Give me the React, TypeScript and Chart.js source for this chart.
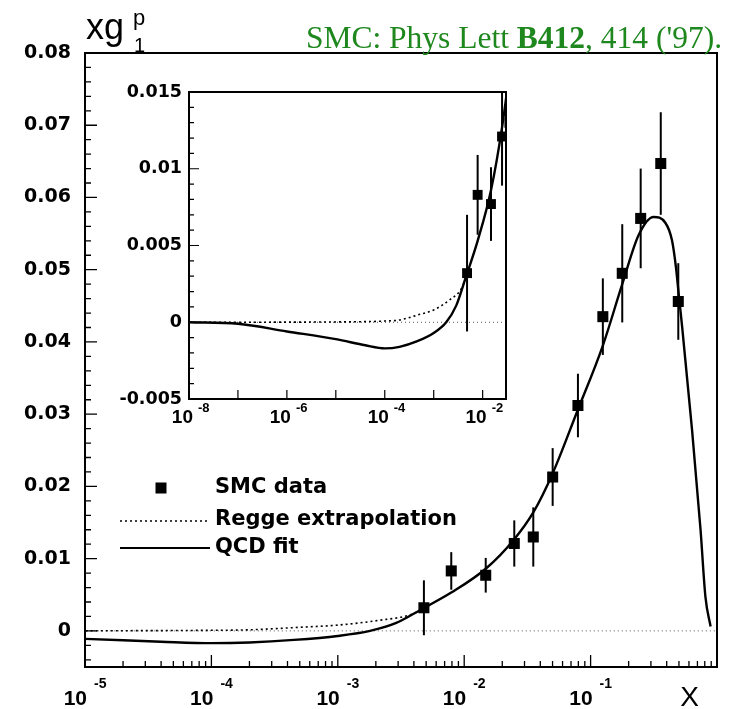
import React, { useEffect, useRef } from "react";
import { Chart, registerables } from "chart.js";

Chart.register(...registerables);

// ---------------- data ----------------
const smcX = [0.0048, 0.0079, 0.0148, 0.0249, 0.0352, 0.0501, 0.0794, 0.125, 0.178, 0.249, 0.359, 0.494];
const smcY = [0.0032, 0.0083, 0.0077, 0.0121, 0.013, 0.0213, 0.0312, 0.0435, 0.0495, 0.0571, 0.0647, 0.0456];
const smcErr = [0.0038, 0.0026, 0.0024, 0.0032, 0.0041, 0.004, 0.0044, 0.0053, 0.0068, 0.0069, 0.0071, 0.0053];

const qcdX = [1e-8, 1e-7, 1e-6, 1e-5, 4e-5, 1e-4, 2e-4, 4.5e-4, 1e-3, 1.8e-3, 2.9e-3, 4.5e-3, 7.9e-3, 0.0148, 0.0249, 0.0352, 0.0501, 0.0776, 0.125, 0.178, 0.24, 0.315, 0.39, 0.44, 0.473, 0.5, 0.53, 0.635, 0.741, 0.81, 0.89];
const qcdY = [0, -0.0001, -0.0006, -0.0011, -0.0015, -0.0017, -0.0016, -0.00125, -0.0007, 0.0, 0.0011, 0.0029, 0.0053, 0.0086, 0.0127, 0.0164, 0.0218, 0.0302, 0.0395, 0.048, 0.0548, 0.0573, 0.0565, 0.0541, 0.0504, 0.0463, 0.0421, 0.0278, 0.014, 0.0047, 0.0006];

const reggeX = [1e-8, 1e-5, 1e-4, 2e-4, 5e-4, 1e-3, 2.1e-3, 3.7e-3, 4.8e-3];
const reggeY = [0, 0.00002, 0.00008, 0.00015, 0.0005, 0.0008, 0.00145, 0.0022, 0.0031];

const zeroX = [1e-8, 1];
const zeroY = [0, 0];

const mainYTicks = [0, 0.01, 0.02, 0.03, 0.04, 0.05, 0.06, 0.07, 0.08];
const mainYTickLabels = ["0", "0.01", "0.02", "0.03", "0.04", "0.05", "0.06", "0.07", "0.08"];
const mainXExps = [-5, -4, -3, -2, -1];
const insetYTicks = [-0.005, 0, 0.005, 0.01, 0.015];
const insetYTickLabels = ["-0.005", "0", "0.005", "0.01", "0.015"];
const insetXExps = [-8, -6, -4, -2];

const legendLabels = ["SMC data", "Regge extrapolation", "QCD fit"];
const titleParts = ["SMC: Phys Lett ", "B412", ", 414 ('97)."];

// ---------------- helpers ----------------
const pts = (xs: number[], ys: number[]) => xs.map((x, i) => ({ x, y: ys[i] }));

function datasets(markerR: number) {
  return [
    {
      label: "SMC data",
      data: pts(smcX, smcY),
      showLine: false,
      pointStyle: "rect",
      pointRadius: markerR,
      pointBackgroundColor: "#000",
      pointBorderWidth: 0,
      order: 0,
    },
    {
      label: "QCD fit",
      data: pts(qcdX, qcdY),
      showLine: true,
      pointRadius: 0,
      borderColor: "#000",
      borderWidth: 2.4,
      cubicInterpolationMode: "monotone",
      order: 1,
    },
    {
      label: "Regge extrapolation",
      data: pts(reggeX, reggeY),
      showLine: true,
      pointRadius: 0,
      borderColor: "#000",
      borderWidth: 1.6,
      borderDash: [2, 3],
      cubicInterpolationMode: "monotone",
      order: 2,
    },
    {
      label: "zero",
      data: pts(zeroX, zeroY),
      showLine: true,
      pointRadius: 0,
      borderColor: "#555",
      borderWidth: 1,
      borderDash: [1, 3],
      order: 3,
    },
  ];
}

function errorBars(chart: any, width: number) {
  const ctx = chart.ctx;
  const a = chart.chartArea;
  const xs = chart.scales.x;
  const ys = chart.scales.y;
  ctx.save();
  ctx.beginPath();
  ctx.rect(a.left, a.top, a.right - a.left, a.bottom - a.top);
  ctx.clip();
  ctx.strokeStyle = "#000";
  ctx.lineWidth = width;
  smcX.forEach((x, i) => {
    const px = xs.getPixelForValue(x);
    ctx.beginPath();
    ctx.moveTo(px, ys.getPixelForValue(smcY[i] - smcErr[i]));
    ctx.lineTo(px, ys.getPixelForValue(smcY[i] + smcErr[i]));
    ctx.stroke();
  });
  ctx.restore();
}

function logTicks(chart: any, lo: number, hi: number, majLen: number, minLen: number, withMinor: boolean) {
  const ctx = chart.ctx;
  const a = chart.chartArea;
  const xs = chart.scales.x;
  ctx.beginPath();
  for (let e = lo; e <= hi; e++) {
    for (let m = 1; m <= 9; m++) {
      if (m > 1 && !withMinor) continue;
      const v = m * Math.pow(10, e);
      const px = xs.getPixelForValue(v);
      if (px < a.left - 0.5 || px > a.right + 0.5) continue;
      const len = m === 1 ? majLen : minLen;
      ctx.moveTo(px, a.bottom);
      ctx.lineTo(px, a.bottom - len);
    }
  }
  ctx.stroke();
}

function linTicks(chart: any, step: number, majEvery: number, majLen: number, minLen: number) {
  const ctx = chart.ctx;
  const a = chart.chartArea;
  const ys = chart.scales.y;
  const min = ys.min;
  const max = ys.max;
  ctx.beginPath();
  const n0 = Math.ceil(min / step - 1e-6);
  const n1 = Math.floor(max / step + 1e-6);
  for (let n = n0; n <= n1; n++) {
    const py = ys.getPixelForValue(n * step);
    const len = n % majEvery === 0 ? majLen : minLen;
    ctx.moveTo(a.left, py);
    ctx.lineTo(a.left + len, py);
  }
  ctx.stroke();
}

function supLabel(ctx: any, px: number, base: string, exp: string, baseFont: string, expFont: string, baseDx: number, baseY: number, expDx: number, expY: number) {
  ctx.font = baseFont;
  ctx.textAlign = "right";
  ctx.textBaseline = "alphabetic";
  ctx.fillText(base, px + baseDx, baseY);
  ctx.font = expFont;
  ctx.textAlign = "left";
  ctx.fillText(exp, px + expDx, expY);
}

const mainDecor = {
  id: "mainDecor",
  beforeDraw(chart: any) {
    const ctx = chart.ctx;
    ctx.save();
    ctx.fillStyle = "#fff";
    ctx.fillRect(0, 0, chart.width, chart.height);
    ctx.restore();
  },
  beforeDatasetsDraw(chart: any) {
    errorBars(chart, 2);
  },
  afterDraw(chart: any) {
    const ctx = chart.ctx;
    const a = chart.chartArea;
    const ys = chart.scales.y;
    const xs = chart.scales.x;
    ctx.save();
    ctx.strokeStyle = "#000";
    ctx.fillStyle = "#000";
    ctx.lineWidth = 2;
    ctx.strokeRect(a.left, a.top, a.right - a.left, a.bottom - a.top);
    ctx.lineWidth = 1.3;
    linTicks(chart, 0.002, 5, 12, 6);
    logTicks(chart, -5, 0, 12, 6, true);

    // y tick labels
    ctx.font = 'bold 19px "DejaVu Sans", sans-serif';
    ctx.textAlign = "right";
    ctx.textBaseline = "middle";
    mainYTicks.forEach((v, i) => ctx.fillText(mainYTickLabels[i], 71, ys.getPixelForValue(v)));

    // x tick labels
    mainXExps.forEach((e) => {
      const px = xs.getPixelForValue(Math.pow(10, e));
      supLabel(ctx, px, "10", String(e), 'bold 21px "Liberation Sans", Arial, sans-serif', 'bold 14px "Liberation Sans", Arial, sans-serif', 2, 705, 9, 688);
    });

    // axis titles
    ctx.textAlign = "left";
    ctx.textBaseline = "alphabetic";
    ctx.font = '36px "Liberation Sans", Arial, sans-serif';
    ctx.fillText("xg", 86, 39);
    ctx.font = '22px "Liberation Sans", Arial, sans-serif';
    ctx.fillText("p", 133, 25);
    ctx.font = '20px "Liberation Sans", Arial, sans-serif';
    ctx.fillText("1", 134, 52);
    ctx.font = '28px "Liberation Sans", Arial, sans-serif';
    ctx.textAlign = "center";
    ctx.fillText("X", 689.5, 706);

    // legend
    ctx.fillRect(155.5, 482.5, 11, 11);
    ctx.lineWidth = 1.6;
    ctx.setLineDash([2, 3]);
    ctx.beginPath();
    ctx.moveTo(120, 521);
    ctx.lineTo(210, 521);
    ctx.stroke();
    ctx.setLineDash([]);
    ctx.lineWidth = 2.2;
    ctx.beginPath();
    ctx.moveTo(120, 548);
    ctx.lineTo(210, 548);
    ctx.stroke();
    ctx.font = 'bold 21px "DejaVu Sans", sans-serif';
    ctx.textAlign = "left";
    ctx.fillText(legendLabels[0], 215, 493);
    ctx.fillText(legendLabels[1], 215, 525);
    ctx.fillText(legendLabels[2], 215, 553);

    // title (right aligned)
    const fN = '31.5px "Liberation Serif", "Times New Roman", serif';
    const fB = 'bold 31.5px "Liberation Serif", "Times New Roman", serif';
    ctx.font = fN;
    const w0 = ctx.measureText(titleParts[0]).width;
    const w2 = ctx.measureText(titleParts[2]).width;
    ctx.font = fB;
    const w1 = ctx.measureText(titleParts[1]).width;
    const x0 = 722 - (w0 + w1 + w2);
    ctx.fillStyle = "rgb(30,135,30)";
    ctx.textAlign = "left";
    ctx.font = fN;
    ctx.fillText(titleParts[0], x0, 48);
    ctx.font = fB;
    ctx.fillText(titleParts[1], x0 + w0, 48);
    ctx.font = fN;
    ctx.fillText(titleParts[2], x0 + w0 + w1, 48);
    ctx.restore();
  },
};

const insetDecor = {
  id: "insetDecor",
  beforeDraw(chart: any) {
    const ctx = chart.ctx;
    const a = chart.chartArea;
    ctx.save();
    ctx.fillStyle = "#fff";
    ctx.fillRect(a.left, a.top, a.right - a.left, a.bottom - a.top);
    ctx.restore();
  },
  beforeDatasetsDraw(chart: any) {
    errorBars(chart, 2);
  },
  afterDraw(chart: any) {
    const ctx = chart.ctx;
    const a = chart.chartArea;
    const ys = chart.scales.y;
    const xs = chart.scales.x;
    ctx.save();
    ctx.strokeStyle = "#000";
    ctx.fillStyle = "#000";
    ctx.lineWidth = 2;
    ctx.strokeRect(a.left, a.top, a.right - a.left, a.bottom - a.top);
    ctx.lineWidth = 1.2;
    linTicks(chart, 0.001, 5, 10, 5);
    logTicks(chart, -8, -2, 9, 4, false);

    ctx.font = 'bold 17.5px "DejaVu Sans", sans-serif';
    ctx.textAlign = "right";
    ctx.textBaseline = "middle";
    insetYTicks.forEach((v, i) => ctx.fillText(insetYTickLabels[i], 82, ys.getPixelForValue(v)));

    insetXExps.forEach((e) => {
      const px = xs.getPixelForValue(Math.pow(10, e));
      supLabel(ctx, px, "10", String(e), 'bold 19px "Liberation Sans", Arial, sans-serif', 'bold 13px "Liberation Sans", Arial, sans-serif', 4, 353, 9, 342);
    });
    ctx.restore();
  },
};

function makeConfig(opts: any): any {
  return {
    type: "scatter",
    data: { datasets: datasets(opts.markerR) },
    options: {
      responsive: false,
      animation: false,
      devicePixelRatio: 1,
      layout: { padding: opts.padding },
      scales: {
        x: { type: "logarithmic", min: opts.xmin, max: opts.xmax, display: false },
        y: { type: "linear", min: opts.ymin, max: opts.ymax, display: false },
      },
      plugins: {
        legend: { display: false },
        tooltip: { enabled: false },
      },
      events: [],
    },
    plugins: [opts.decor],
  };
}

export default function App() {
  const mainRef = useRef<HTMLCanvasElement>(null);
  const insetRef = useRef<HTMLCanvasElement>(null);

  useEffect(() => {
    const main = new Chart(
      mainRef.current as HTMLCanvasElement,
      makeConfig({
        markerR: 7.8,
        padding: { left: 85, right: 15, top: 53, bottom: 42 },
        xmin: 1e-5,
        xmax: 1,
        ymin: -0.005,
        ymax: 0.08,
        decor: mainDecor,
      })
    );
    const inset = new Chart(
      insetRef.current as HTMLCanvasElement,
      makeConfig({
        markerR: 7,
        padding: { left: 89, right: 14, top: 22, bottom: 46 },
        xmin: 1e-8,
        xmax: 0.03,
        ymin: -0.005,
        ymax: 0.015,
        decor: insetDecor,
      })
    );
    return () => {
      main.destroy();
      inset.destroy();
    };
  }, []);

  return (
    <div style={{ position: "fixed", left: 0, top: 0, width: 732, height: 709, background: "#fff" }}>
      <canvas ref={mainRef} width={732} height={709} style={{ position: "absolute", left: 0, top: 0, width: 732, height: 709 }} />
      <canvas ref={insetRef} width={420} height={375} style={{ position: "absolute", left: 100, top: 70, width: 420, height: 375 }} />
    </div>
  );
}
